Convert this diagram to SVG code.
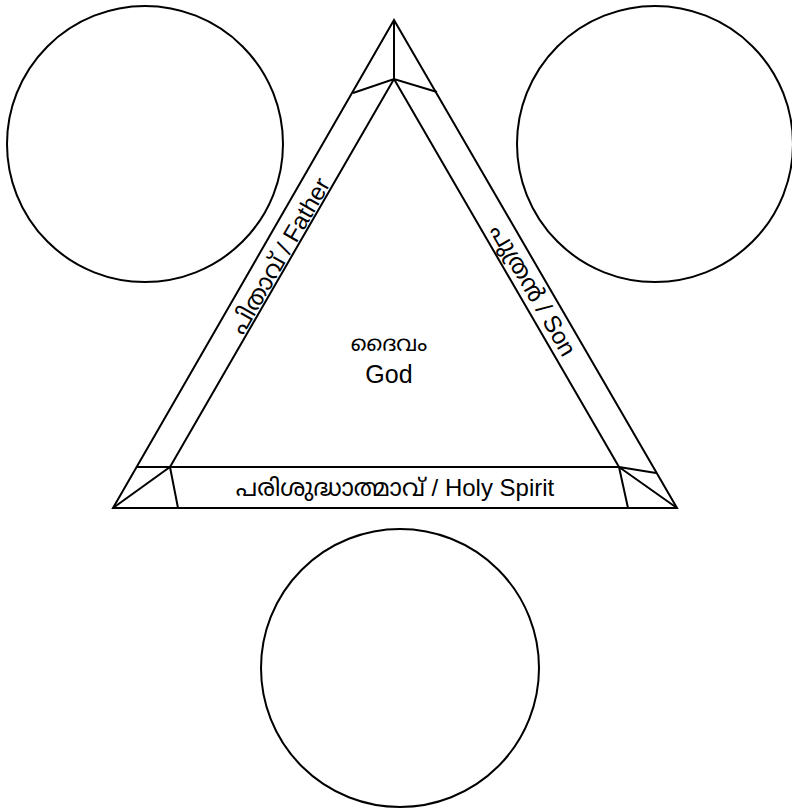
<svg xmlns="http://www.w3.org/2000/svg" width="792" height="811" viewBox="0 0 792 811">
<style>
.s{fill:none;stroke:#000;stroke-width:2;stroke-linejoin:miter}
.t{font-family:"Liberation Sans","Noto Sans Malayalam","Noto Sans",sans-serif;fill:#000;text-anchor:middle}
</style>
<rect width="792" height="811" fill="#fff"/>
<g id="circle-father"><circle class="s" cx="145" cy="144" r="138"/></g>
<g id="circle-son"><circle class="s" cx="655" cy="144" r="138"/></g>
<g id="circle-spirit"><circle class="s" cx="400" cy="668" r="139"/></g>
<g id="triangle">
<polygon class="s" points="394,20 113,508 677,508"/>
<polygon class="s" points="394,79 170,467 619,467"/>
<path class="s" d="M394,20 L394,79 M353,93 L394,79 L437,92 M137,467 L170,467 M113,508 L170,467 L178,508 M656,473 L619,467 L677,508 M619,467 L628,508"/>
</g>
<g id="label-father"><text class="t" font-size="24" transform="translate(280,256) rotate(-60)" y="8">പിതാവ് / Father</text></g>
<g id="label-son"><text class="t" font-size="24" transform="translate(533,290) rotate(60)" y="8">പുത്രൻ / Son</text></g>
<g id="label-spirit"><text class="t" font-size="24" x="395" y="496">പരിശുദ്ധാത്മാവ് / Holy Spirit</text></g>
<g id="label-god">
<text class="t" font-size="22" x="389" y="351">ദൈവം</text>
<text class="t" font-size="25" x="389" y="383">God</text>
</g>
</svg>
